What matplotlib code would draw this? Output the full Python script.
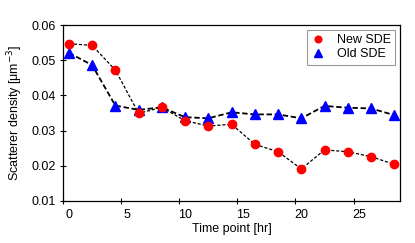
import numpy as np
import matplotlib
matplotlib.use('Agg')
import matplotlib.pyplot as plt

plt.rcParams['font.family'] = ['Liberation Sans', 'DejaVu Sans']

# time points [hr]
time = [0, 2, 4, 6, 8, 10, 12, 14, 16, 18, 20, 22, 24, 26, 28]

# scatterer density values
new_sde = [0.0547, 0.0542, 0.0472, 0.0349, 0.0366, 0.0328, 0.0313, 0.0318,
           0.0261, 0.0240, 0.0191, 0.0245, 0.0240, 0.0226, 0.0204]
old_sde = [0.0521, 0.0486, 0.0371, 0.0359, 0.0366, 0.0338, 0.0335, 0.0352,
           0.0346, 0.0346, 0.0335, 0.0370, 0.0365, 0.0363, 0.0344]

xticks = [0, 5, 10, 15, 20, 25]
yticks = [0.01, 0.02, 0.03, 0.04, 0.05, 0.06]

fig = plt.figure(figsize=(4.15, 2.43), dpi=100)
ax = fig.add_axes([0.152, 0.173, 0.812, 0.724])

ax.plot(time, new_sde, color='black', linestyle=(0, (2.5, 1.5)), linewidth=0.9,
        marker='o', markersize=6, markerfacecolor='red', markeredgecolor='red',
        label='New SDE', zorder=3)
ax.plot(time, old_sde, color='black', linestyle=(0, (3, 1.5)), linewidth=1.3,
        marker='^', markersize=7, markerfacecolor='blue', markeredgecolor='blue',
        label='Old SDE', zorder=2)

ax.set_xlim(-0.5, 28.5)
ax.set_ylim(0.01, 0.06)

# labels sit on the data points, tick marks half a unit to the left
ax.set_xticks(xticks)
ax.set_xticklabels([str(t) for t in xticks])
ax.set_xticks([t - 0.5 for t in xticks], minor=True)
ax.tick_params(axis='x', which='major', length=0, pad=6, labelsize=9)
ax.tick_params(axis='x', which='minor', direction='inout', length=4, width=0.8)

ax.set_yticks(yticks)
ax.set_yticklabels(['%.2f' % v for v in yticks])
ax.tick_params(axis='y', direction='inout', length=4, width=0.8, labelsize=9, pad=3)

for s in ax.spines.values():
    s.set_linewidth(0.9)

ax.set_xlabel('Time point [hr]', fontsize=9, labelpad=1)
ax.set_ylabel('Scatterer density [\u03bcm$^{-3}$]', fontsize=9, labelpad=5)

leg = ax.legend(loc='upper right', fontsize=9, frameon=True, fancybox=False,
                edgecolor='gray', handlelength=1.0, handletextpad=1.0,
                borderaxespad=0.4, labelspacing=0.15, borderpad=0.35,
                markerscale=0.8)
for h in leg.get_lines():
    h.set_linestyle('none')
leg.get_frame().set_linewidth(0.8)

fig.savefig('out.png', dpi=100)
